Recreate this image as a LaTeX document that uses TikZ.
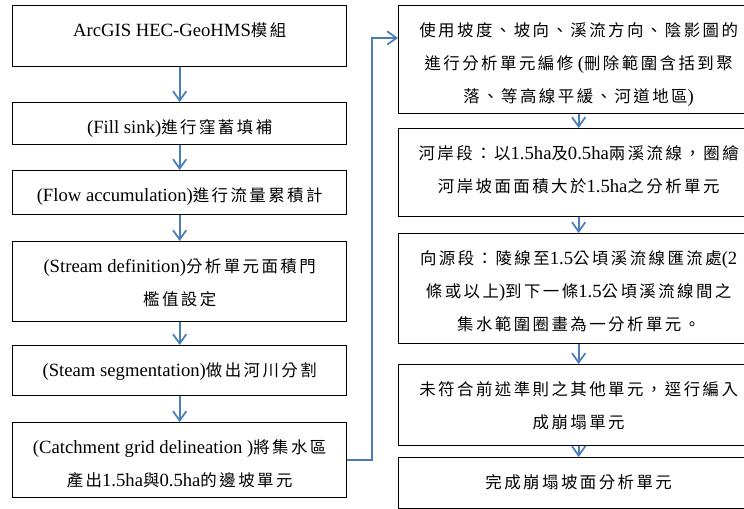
\documentclass[tikz,border=0pt]{standalone}
\usepackage{fontspec}
\setmainfont{Liberation Serif}
\newfontfamily\cj[Scale=0.88,LetterSpace=15]{Noto Sans CJK TC}
\usetikzlibrary{arrows.meta,calc}
\definecolor{flowblue}{RGB}{74,126,187}
\newcommand{\ls}{\rule{0pt}{11pt}}
\newcommand{\zh}[1]{{\cj #1}}
\begin{document}
\begin{tikzpicture}[x=0.75pt,y=-0.75pt,
  box/.style={draw=black, line width=1pt, inner sep=0pt, anchor=north west},
  lbox/.style={box, minimum width=250.5pt},
  rbox/.style={box, minimum width=270pt},
  txt/.style={inner sep=0pt, anchor=north, align=center, font=\fontsize{14}{24.75}\selectfont},
  flow/.style={draw=flowblue, line width=1.3pt, -{Straight Barb[length=7pt,width=10pt]}}]
\useasboundingbox (0,0) rectangle (744,509);
\clip (0,0) rectangle (744,509);
% left column
\node[lbox, minimum height=45.75pt] (b1) at (12,5) {};
\node[lbox, minimum height=31.5pt] (b2) at (12,102) {};
\node[lbox, minimum height=33pt] (b3) at (12,170) {};
\node[lbox, minimum height=60pt] (b4) at (12,241) {};
\node[lbox, minimum height=37.5pt] (b5) at (12,345) {};
\node[lbox, minimum height=56.25pt] (b6) at (12,422) {};
\node[txt] (t1) at ($(b1.north)+(0,17)$) {\ls ArcGIS HEC-GeoHMS\zh{模組}};
\node[txt] (t2) at ($(b2.north)+(0,17)$) {\ls (Fill sink)\zh{進行窪蓄填補}};
\node[txt] (t3) at ($(b3.north)+(0,17)$) {\ls (Flow accumulation)\zh{進行流量累積計}};
\node[txt] (t4) at ($(b4.north)+(0,17)$) {\ls (Stream definition)\zh{分析單元面積門}\\\ls\zh{檻值設定}};
\node[txt] (t5) at ($(b5.north)+(0,17)$) {\ls (Steam segmentation)\zh{做出河川分割}};
\node[txt] (t6) at ($(b6.north)+(0,17)$) {\ls (Catchment grid delineation )\zh{將集水區}\\\ls\zh{產出}1.5ha\zh{與}0.5ha\zh{的邊坡單元}};
% right column
\node[rbox, minimum height=81pt] (r1) at (398,5) {};
\node[rbox, minimum height=66pt] (r2) at (398,128) {};
\node[rbox, minimum height=82.5pt] (r3) at (398,233) {};
\node[rbox, minimum height=60.75pt] (r4) at (398,364) {};
\node[rbox, minimum height=38.25pt] (r5) at (398,457) {};
\node[txt] (s1) at ($(r1.north)+(0,17)$) {\ls\zh{使用坡度、坡向、溪流方向、陰影圖的}\\\ls\zh{進行分析單元編修}\ (\zh{刪除範圍含括到聚}\\\ls\zh{落、等高線平緩、河道地區})};
\node[txt] (s2) at ($(r2.north)+(0,17)$) {\ls\zh{河岸段：以}1.5ha\zh{及}0.5ha\zh{兩溪流線，圈繪}\\\ls\zh{河岸坡面面積大於}1.5ha\zh{之分析單元}};
\node[txt] (s3) at ($(r3.north)+(0,17)$) {\ls\zh{向源段：陵線至}1.5\zh{公頃溪流線匯流處}(2\\\ls\zh{條或以上})\zh{到下一條}1.5\zh{公頃溪流線間之}\\\ls\zh{集水範圍圈畫為一分析單元。}};
\node[txt] (s4) at ($(r4.north)+(0,17)$) {\ls\zh{未符合前述準則之其他單元，逕行編入}\\\ls\zh{成崩塌單元}};
\node[txt] (s5) at ($(r5.north)+(0,17)$) {\ls\zh{完成崩塌坡面分析單元}};
% connectors
\draw[flow] (b1.south) -- (b2.north);
\draw[flow] (b2.south) -- (b3.north);
\draw[flow] (b3.south) -- (b4.north);
\draw[flow] (b4.south) -- (b5.north);
\draw[flow] (b5.south) -- (b6.north);
\coordinate (turn) at (372,38);
\draw[flow] (b6.east) -| (turn) -- (turn -| r1.west);
\draw[flow] (r1.south) -- (r2.north);
\draw[flow] (r2.south) -- (r3.north);
\draw[flow] (r3.south) -- (r4.north);
\draw[flow] (r4.south) -- (r5.north);
\end{tikzpicture}
\end{document}
